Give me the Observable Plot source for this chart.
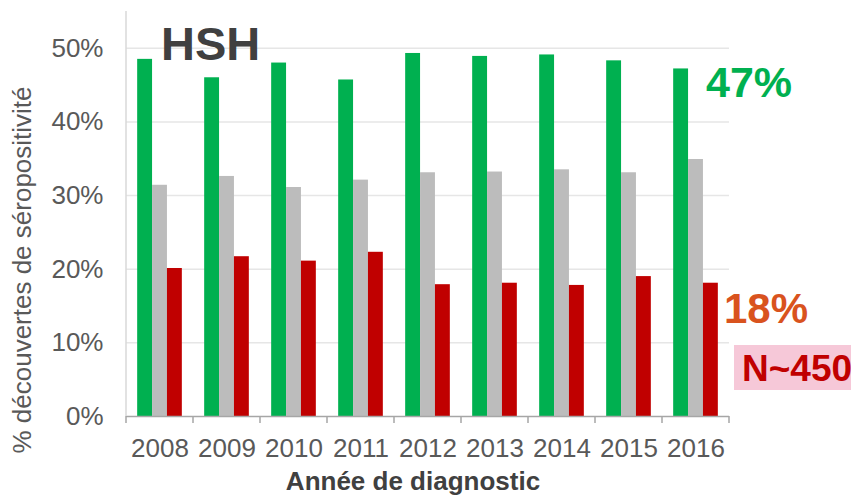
<!DOCTYPE html>
<html>
<head>
<meta charset="utf-8">
<script src="https://cdn.jsdelivr.net/npm/d3@7"></script>
<script src="https://cdn.jsdelivr.net/npm/@observablehq/plot@0.6"></script>
<style>
  body { margin: 0; background: #fff; }
  #chart { width: 851px; height: 495px; overflow: hidden; }
</style>
</head>
<body>
<div id="chart"></div>
<script>
// ---- Data ----
const years = ["2008", "2009", "2010", "2011", "2012", "2013", "2014", "2015", "2016"];
const seriesNames = ["vert", "gris", "rouge"];
const seriesColors = ["#00b050", "#bcbcbc", "#c00000"];
const greenValues = [0.485, 0.460, 0.480, 0.457, 0.493, 0.489, 0.491, 0.483, 0.472];
const greyValues  = [0.314, 0.326, 0.311, 0.321, 0.331, 0.332, 0.335, 0.331, 0.349];
const redValues   = [0.201, 0.217, 0.211, 0.223, 0.179, 0.181, 0.178, 0.190, 0.181];
const yTicks = [0, 0.1, 0.2, 0.3, 0.4, 0.5];
const gridTicks = [0.1, 0.2, 0.3, 0.4, 0.5];
const yMax = 0.55;

const title = "HSH";
const yLabel = "% découvertes de séropositivité";
const xLabel = "Année de diagnostic";
const greenNote = "47%";
const redNote = "18%";
const countNote = "N~450";

const valuesBySeries = [greenValues, greyValues, redValues];
const data = [];
years.forEach((yr, i) => {
  seriesNames.forEach((s, j) => data.push({year: yr, series: s, value: valuesBySeries[j][i]}));
});

const font = "'Liberation Sans', Arial, sans-serif";

const chart = Plot.plot({
  width: 851,
  height: 495,
  marginLeft: 123,
  marginRight: 120,
  marginTop: 11,
  marginBottom: 79,
  style: {fontFamily: font, fontSize: "26px", color: "#595959", background: "#fff", overflow: "visible"},
  fx: {domain: years, padding: 0, label: null, axis: "bottom", tickSize: 0, tickPadding: 22},
  x: {domain: seriesNames, axis: null, paddingInner: 0, paddingOuter: 0.75, round: false},
  y: {domain: [0, yMax], ticks: yTicks, tickFormat: d3.format(".0%"), tickSize: 0, tickPadding: 23, label: null},
  color: {domain: seriesNames, range: seriesColors},
  marks: [
    Plot.gridY(gridTicks, {stroke: "#e6e6e6", strokeOpacity: 1, strokeWidth: 1.5}),
    Plot.barY(data, {fx: "year", x: "series", y: "value", fill: "series"}),
    Plot.ruleY([0], {stroke: "#a6a6a6", strokeWidth: 1.5})
  ]
});

document.getElementById("chart").appendChild(chart);

// ---- Extra axis furniture and annotations, using the plot's own scales ----
const svg = d3.select(chart);
const fx = chart.scale("fx");
const y = chart.scale("y");
const y0 = y.apply(0);
const yTop = y.apply(yMax);
const left = fx.apply(years[0]);
const right = fx.apply(years[years.length - 1]) + fx.bandwidth;

// left axis line
svg.append("line")
  .attr("x1", left).attr("x2", left).attr("y1", yTop).attr("y2", y0)
  .attr("stroke", "#d9d9d9").attr("stroke-width", 1.5);

// category boundary ticks
const bounds = years.map(d => fx.apply(d)).concat([right]);
svg.append("g").selectAll("line").data(bounds).join("line")
  .attr("x1", d => d).attr("x2", d => d).attr("y1", y0).attr("y2", y0 + 7)
  .attr("stroke", "#a6a6a6").attr("stroke-width", 1.5);

function addText(x, yPos, str, size, weight, fill, anchor) {
  return svg.append("text")
    .attr("x", x).attr("y", yPos)
    .attr("text-anchor", anchor || "start")
    .attr("font-family", font).attr("font-size", size)
    .attr("font-weight", weight).attr("fill", fill)
    .text(str);
}

// y label
svg.append("text")
  .attr("transform", `translate(31,270) rotate(-90)`)
  .attr("text-anchor", "middle")
  .attr("font-family", font).attr("font-size", 26).attr("fill", "#595959")
  .text(yLabel);

// x label
addText(413, 490, xLabel, 26, "bold", "#404040", "middle");

// HSH title
addText(161, 60, title, 47, "bold", "#404040");

// 47%
addText(706, 97, greenNote, 43, "bold", "#00b050");

// 18%
addText(724, 323, redNote, 42, "bold", "#d9531e");

// N~450 box
svg.append("rect")
  .attr("x", 734).attr("y", 345).attr("width", 130).attr("height", 45)
  .attr("fill", "#f6c8d8");
addText(742, 381, countNote, 37, "bold", "#c00000");
</script>
</body>
</html>
